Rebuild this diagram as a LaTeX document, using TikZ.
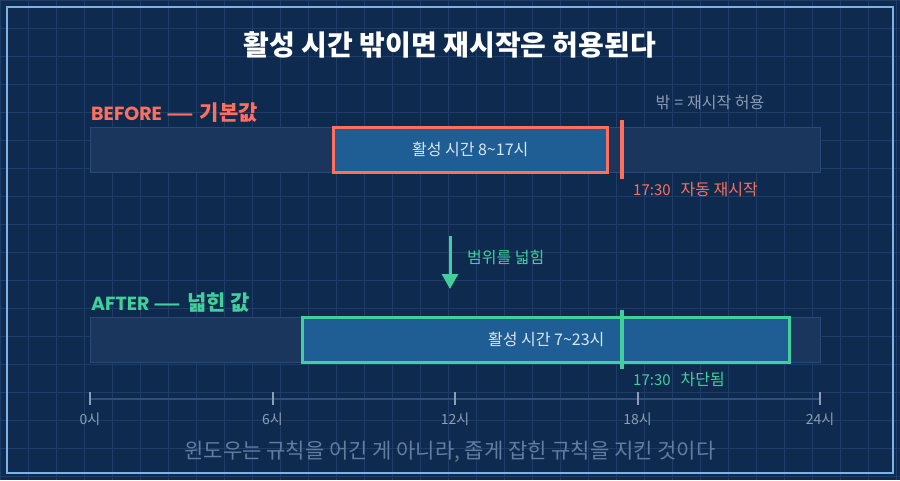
\documentclass[tikz,border=0pt]{standalone}
\usepackage{fontspec}
\usepackage{graphicx}
\setmainfont{Noto Sans CJK KR}
\newfontfamily\pop{Poppins}
\usetikzlibrary{arrows.meta}
\definecolor{bgc}{HTML}{0E2A4F}
\definecolor{gridc}{HTML}{1E3D69}
\definecolor{framec}{HTML}{7DB2E6}
\definecolor{barbg}{HTML}{1A365C}
\definecolor{barln}{HTML}{284A78}
\definecolor{actfill}{HTML}{1F5E94}
\definecolor{coral}{HTML}{FF6F5E}
\definecolor{mint}{HTML}{42CF9C}
\definecolor{graytx}{HTML}{8A9BB3}
\definecolor{foottx}{HTML}{647C9F}
\definecolor{boxtx}{HTML}{DCE6F1}
\definecolor{axisc}{HTML}{2F4E7A}
\definecolor{tickc}{HTML}{8D9DB5}
\newcommand\fsz[1]{\fontsize{#1}{#1}\selectfont}
\newcommand\longdash{\scalebox{1.6}[1]{—}}
\tikzset{
  fs/.style={font=\fsz{#1}},
  track/.style={draw=barln, fill=barbg, line width=1pt, minimum width=730pt, minimum height=45pt, inner sep=0pt, anchor=west},
  actbox/.style={fill=actfill, line width=3pt, inner sep=0pt, text=boxtx, fs=16},
  marker/.style={line width=4pt},
  ticklab/.style={text=tickc, fs=14},
  sidelab/.style={anchor=west, inner sep=0pt},
}
\begin{document}
\begin{tikzpicture}[x=1pt,y=-1pt]
\useasboundingbox (0,0) rectangle (900,480);
\fill[bgc] (0,0) rectangle (900,480);
\foreach \i in {0,...,32} \draw[gridc, line width=1pt] (\i*28,0) -- (\i*28,480);
\foreach \j in {0,...,17} \draw[gridc, line width=1pt] (0,\j*28) -- (900,\j*28);
\draw[framec, line width=2pt] (7,7) rectangle (893,473);

% title
\node[text=white] (title) at (450,45) {\fsz{28}\bfseries 활성 시간 밖이면 재시작은 허용된다};

% BEFORE
\node[sidelab, text=coral] (beforelab) at (91,113) {{\fsz{19}\pop\bfseries BEFORE }{\fsz{19}\bfseries \longdash\hspace{6pt}}{\fsz{21}\bfseries 기본값}};
\node[text=graytx, fs=16] (outlab) at (710,103) {밖\hspace{4pt}=\hspace{4pt}재시작 허용};
\node[track] (btrack) at (90,149.5) {};
\node[actbox, draw=coral, minimum width={9*30.4167pt}, minimum height=45pt] (bact) at ({90+12.5*30.4167},149.5) {활성 시간 8\textasciitilde17시};
\coordinate (bm1) at ({90+17.5*30.4167},120);
\coordinate (bm2) at ({90+17.5*30.4167},179);
\draw[coral, marker] (bm1) -- (bm2);
\node[sidelab, text=coral] (blab) at (633,190) {{\fsz{15}17:30}\hspace{10pt}{\fsz{16}자동 재시작}};

% arrow
\coordinate (a1) at (450,236);
\coordinate (a2) at (450,289);
\draw[mint, line width=3pt, -{Triangle[width=16pt,length=15pt]}] (a1) -- (a2);
\node[sidelab, text=mint, fs=16] (arrlab) at (467,257) {범위를 넓힘};

% AFTER
\node[sidelab, text=mint] (afterlab) at (91,303) {{\fsz{19}\pop\bfseries AFTER }{\fsz{19}\bfseries \longdash\hspace{6pt}}{\fsz{21}\bfseries 넓힌 값}};
\node[track] (atrack) at (90,339.5) {};
\node[actbox, draw=mint, minimum width={16*30.4167pt}, minimum height=45pt] (aact) at ({90+15*30.4167},339.5) {활성 시간 7\textasciitilde23시};
\coordinate (am1) at ({90+17.5*30.4167},310);
\coordinate (am2) at ({90+17.5*30.4167},369);
\draw[mint, marker] (am1) -- (am2);
\node[sidelab, text=mint] (alab) at (633,380) {{\fsz{15}17:30}\hspace{10pt}{\fsz{16}차단됨}};

% axis
\coordinate (ax0) at (90,399);
\coordinate (ax1) at (820,399);
\draw[axisc, line width=2pt] (ax0) -- (ax1);
\foreach \h/\t in {0/0시,6/6시,12/12시,18/18시,24/24시}{
  \draw[tickc, line width=2pt] ({90+\h*30.4167},392) -- ({90+\h*30.4167},405);
  \node[ticklab] (tick\h) at ({90+\h*30.4167},419) {\t};
}

% footer
\node[text=foottx, fs=21] (foot) at (450,452) {윈도우는 규칙을 어긴 게 아니라, 좁게 잡힌 규칙을 지킨 것이다};
\end{tikzpicture}
\end{document}
